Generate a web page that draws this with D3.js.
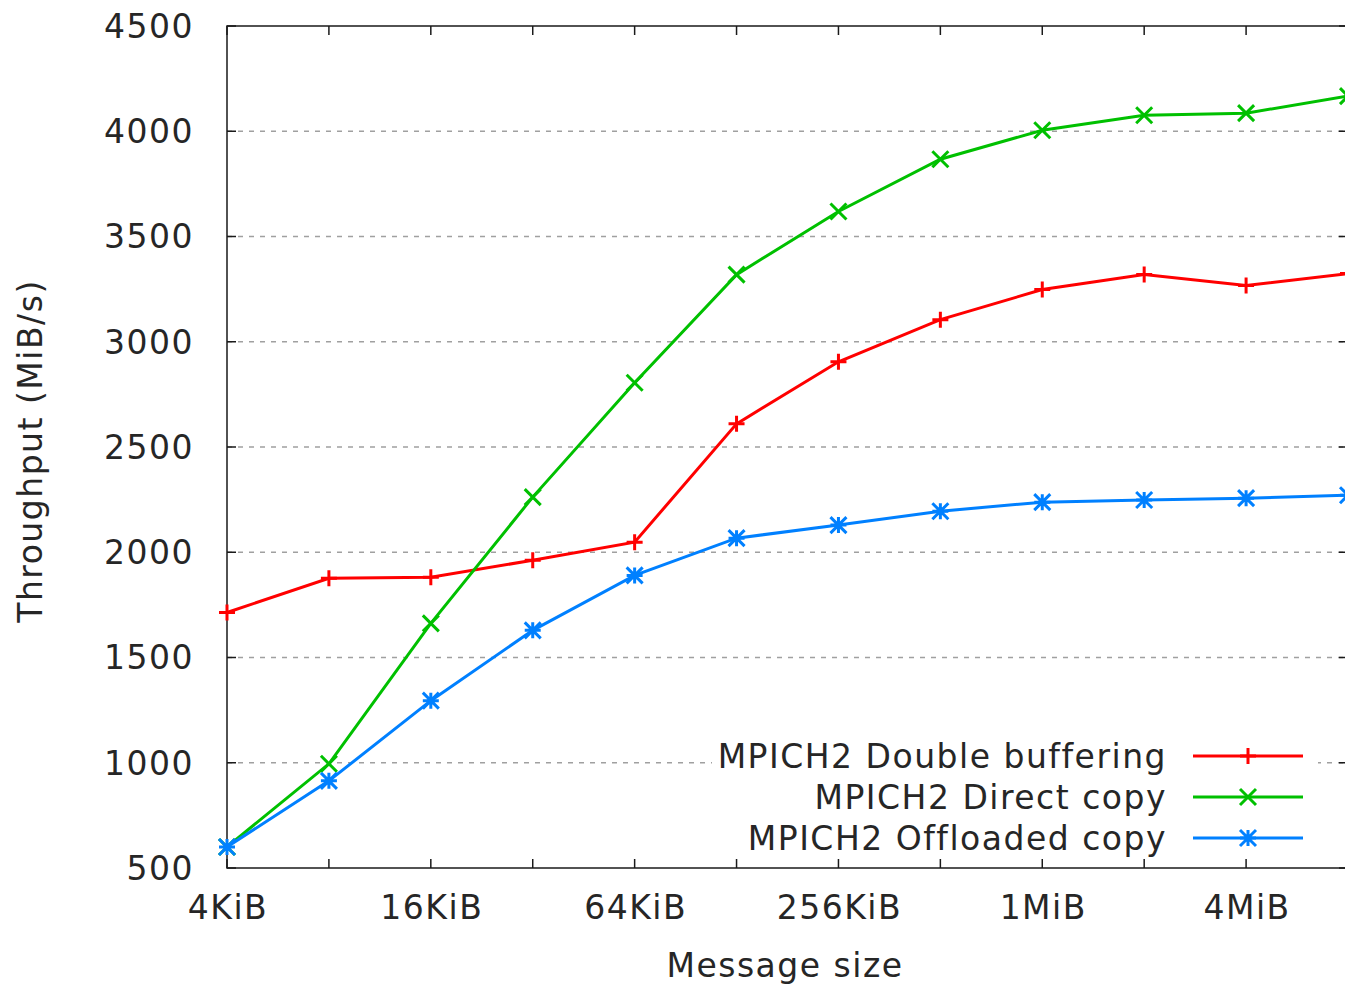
<!DOCTYPE html>
<html>
<head>
<meta charset="utf-8">
<script src="https://cdn.jsdelivr.net/npm/d3@7"></script>
<style>
  body { margin: 0; background: #fff; }
  svg text { font-family: "DejaVu Sans", Verdana, sans-serif; fill: #262626; font-size: 33px; letter-spacing: 1.5px; }
</style>
</head>
<body>
<div id="chart"></div>
<script>
// message sizes in bytes, 4KiB .. 8MiB
const sizes = [4096, 8192, 16384, 32768, 65536, 131072, 262144, 524288, 1048576, 2097152, 4194304, 8388608];
const sizeLabels = { 4096: '4KiB', 16384: '16KiB', 65536: '64KiB', 262144: '256KiB', 1048576: '1MiB', 4194304: '4MiB' };
const yTicks = [500, 1000, 1500, 2000, 2500, 3000, 3500, 4000, 4500];

const doubleBuffering = [1714, 1876, 1881, 1962, 2048, 2610, 2905, 3105, 3248, 3319, 3267, 3324];
const directCopy = [600, 995, 1662, 2262, 2805, 3319, 3619, 3867, 4005, 4076, 4086, 4167];
const offloadedCopy = [600, 914, 1295, 1629, 1890, 2067, 2129, 2195, 2238, 2248, 2257, 2271];

const series = [
  { name: 'MPICH2 Double buffering', values: doubleBuffering, color: '#ff0000', marker: 'plus' },
  { name: 'MPICH2 Direct copy', values: directCopy, color: '#00c000', marker: 'cross' },
  { name: 'MPICH2 Offloaded copy', values: offloadedCopy, color: '#0080ff', marker: 'star' }
];

const W = 1345, H = 984;
const plot = { left: 227, right: 1348, top: 26, bottom: 868 };

const svg = d3.select('#chart').append('svg')
  .attr('width', W).attr('height', H);

const x = d3.scaleLog().base(2).domain([4096, 8388608]).range([plot.left, plot.right]);
const y = d3.scaleLinear().domain([500, 4500]).range([plot.bottom, plot.top]);

// grid
svg.append('g').selectAll('line')
  .data(yTicks.filter(d => d > 500 && d < 4500))
  .enter().append('line')
  .attr('x1', plot.left).attr('x2', plot.right)
  .attr('y1', d => y(d)).attr('y2', d => y(d))
  .attr('stroke', '#a0a0a0').attr('stroke-width', 1.5)
  .attr('stroke-dasharray', '5,6');

// frame + inward ticks
const tickLen = 9;
const axisG = svg.append('g').attr('stroke', '#1a1a1a').attr('stroke-width', 1.5);
axisG.append('rect')
  .attr('x', plot.left).attr('y', plot.top)
  .attr('width', plot.right - plot.left).attr('height', plot.bottom - plot.top)
  .attr('fill', 'none');
sizes.forEach(s => {
  axisG.append('line').attr('x1', x(s)).attr('x2', x(s)).attr('y1', plot.bottom).attr('y2', plot.bottom - tickLen);
  axisG.append('line').attr('x1', x(s)).attr('x2', x(s)).attr('y1', plot.top).attr('y2', plot.top + tickLen);
});
yTicks.forEach(v => {
  axisG.append('line').attr('x1', plot.left).attr('x2', plot.left + tickLen).attr('y1', y(v)).attr('y2', y(v));
  axisG.append('line').attr('x1', plot.right).attr('x2', plot.right - tickLen).attr('y1', y(v)).attr('y2', y(v));
});

// tick labels
svg.append('g').selectAll('text')
  .data(yTicks).enter().append('text')
  .attr('x', 194).attr('y', d => y(d))
  .attr('dy', '0.36em')
  .attr('text-anchor', 'end')
  .text(d => d);

svg.append('g').selectAll('text')
  .data(Object.keys(sizeLabels).map(Number)).enter().append('text')
  .attr('x', d => x(d) + 1).attr('y', 919)
  .attr('text-anchor', 'middle')
  .text(d => sizeLabels[d]);

// axis titles
svg.append('text')
  .attr('x', 785).attr('y', 977)
  .attr('text-anchor', 'middle')
  .text('Message size');

svg.append('text')
  .attr('transform', 'translate(42,451) rotate(-90)')
  .attr('text-anchor', 'middle')
  .text('Throughput (MiB/s)');

function drawMarker(g, type, cx, cy, color) {
  const r = 8;
  let path;
  if (type === 'plus') {
    path = `M${cx - r},${cy}H${cx + r}M${cx},${cy - r}V${cy + r}`;
  } else if (type === 'cross') {
    path = `M${cx - r},${cy - r}L${cx + r},${cy + r}M${cx - r},${cy + r}L${cx + r},${cy - r}`;
  } else {
    path = `M${cx - r},${cy}H${cx + r}M${cx},${cy - r}V${cy + r}` +
      `M${cx - r},${cy - r}L${cx + r},${cy + r}M${cx - r},${cy + r}L${cx + r},${cy - r}`;
  }
  g.append('path').attr('d', path).attr('stroke', color).attr('stroke-width', 3).attr('fill', 'none');
}

// legend background
svg.append('rect')
  .attr('x', 712).attr('y', 736).attr('width', 606).attr('height', 122)
  .attr('fill', '#fff');

// series
const line = d3.line().x((d, i) => x(sizes[i])).y(d => y(d));
series.forEach(s => {
  const g = svg.append('g');
  g.append('path')
    .datum(s.values)
    .attr('d', line)
    .attr('fill', 'none')
    .attr('stroke', s.color)
    .attr('stroke-width', 3);
  s.values.forEach((v, i) => drawMarker(g, s.marker, x(sizes[i]), y(v), s.color));
});

// legend
series.forEach((s, i) => {
  const ly = 756 + i * 41;
  const g = svg.append('g');
  g.append('text')
    .attr('x', 1167).attr('y', ly).attr('dy', '0.36em')
    .attr('text-anchor', 'end')
    .text(s.name);
  g.append('line')
    .attr('x1', 1193).attr('x2', 1303).attr('y1', ly).attr('y2', ly)
    .attr('stroke', s.color).attr('stroke-width', 3);
  drawMarker(g, s.marker, 1248, ly, s.color);
});
</script>
</body>
</html>
